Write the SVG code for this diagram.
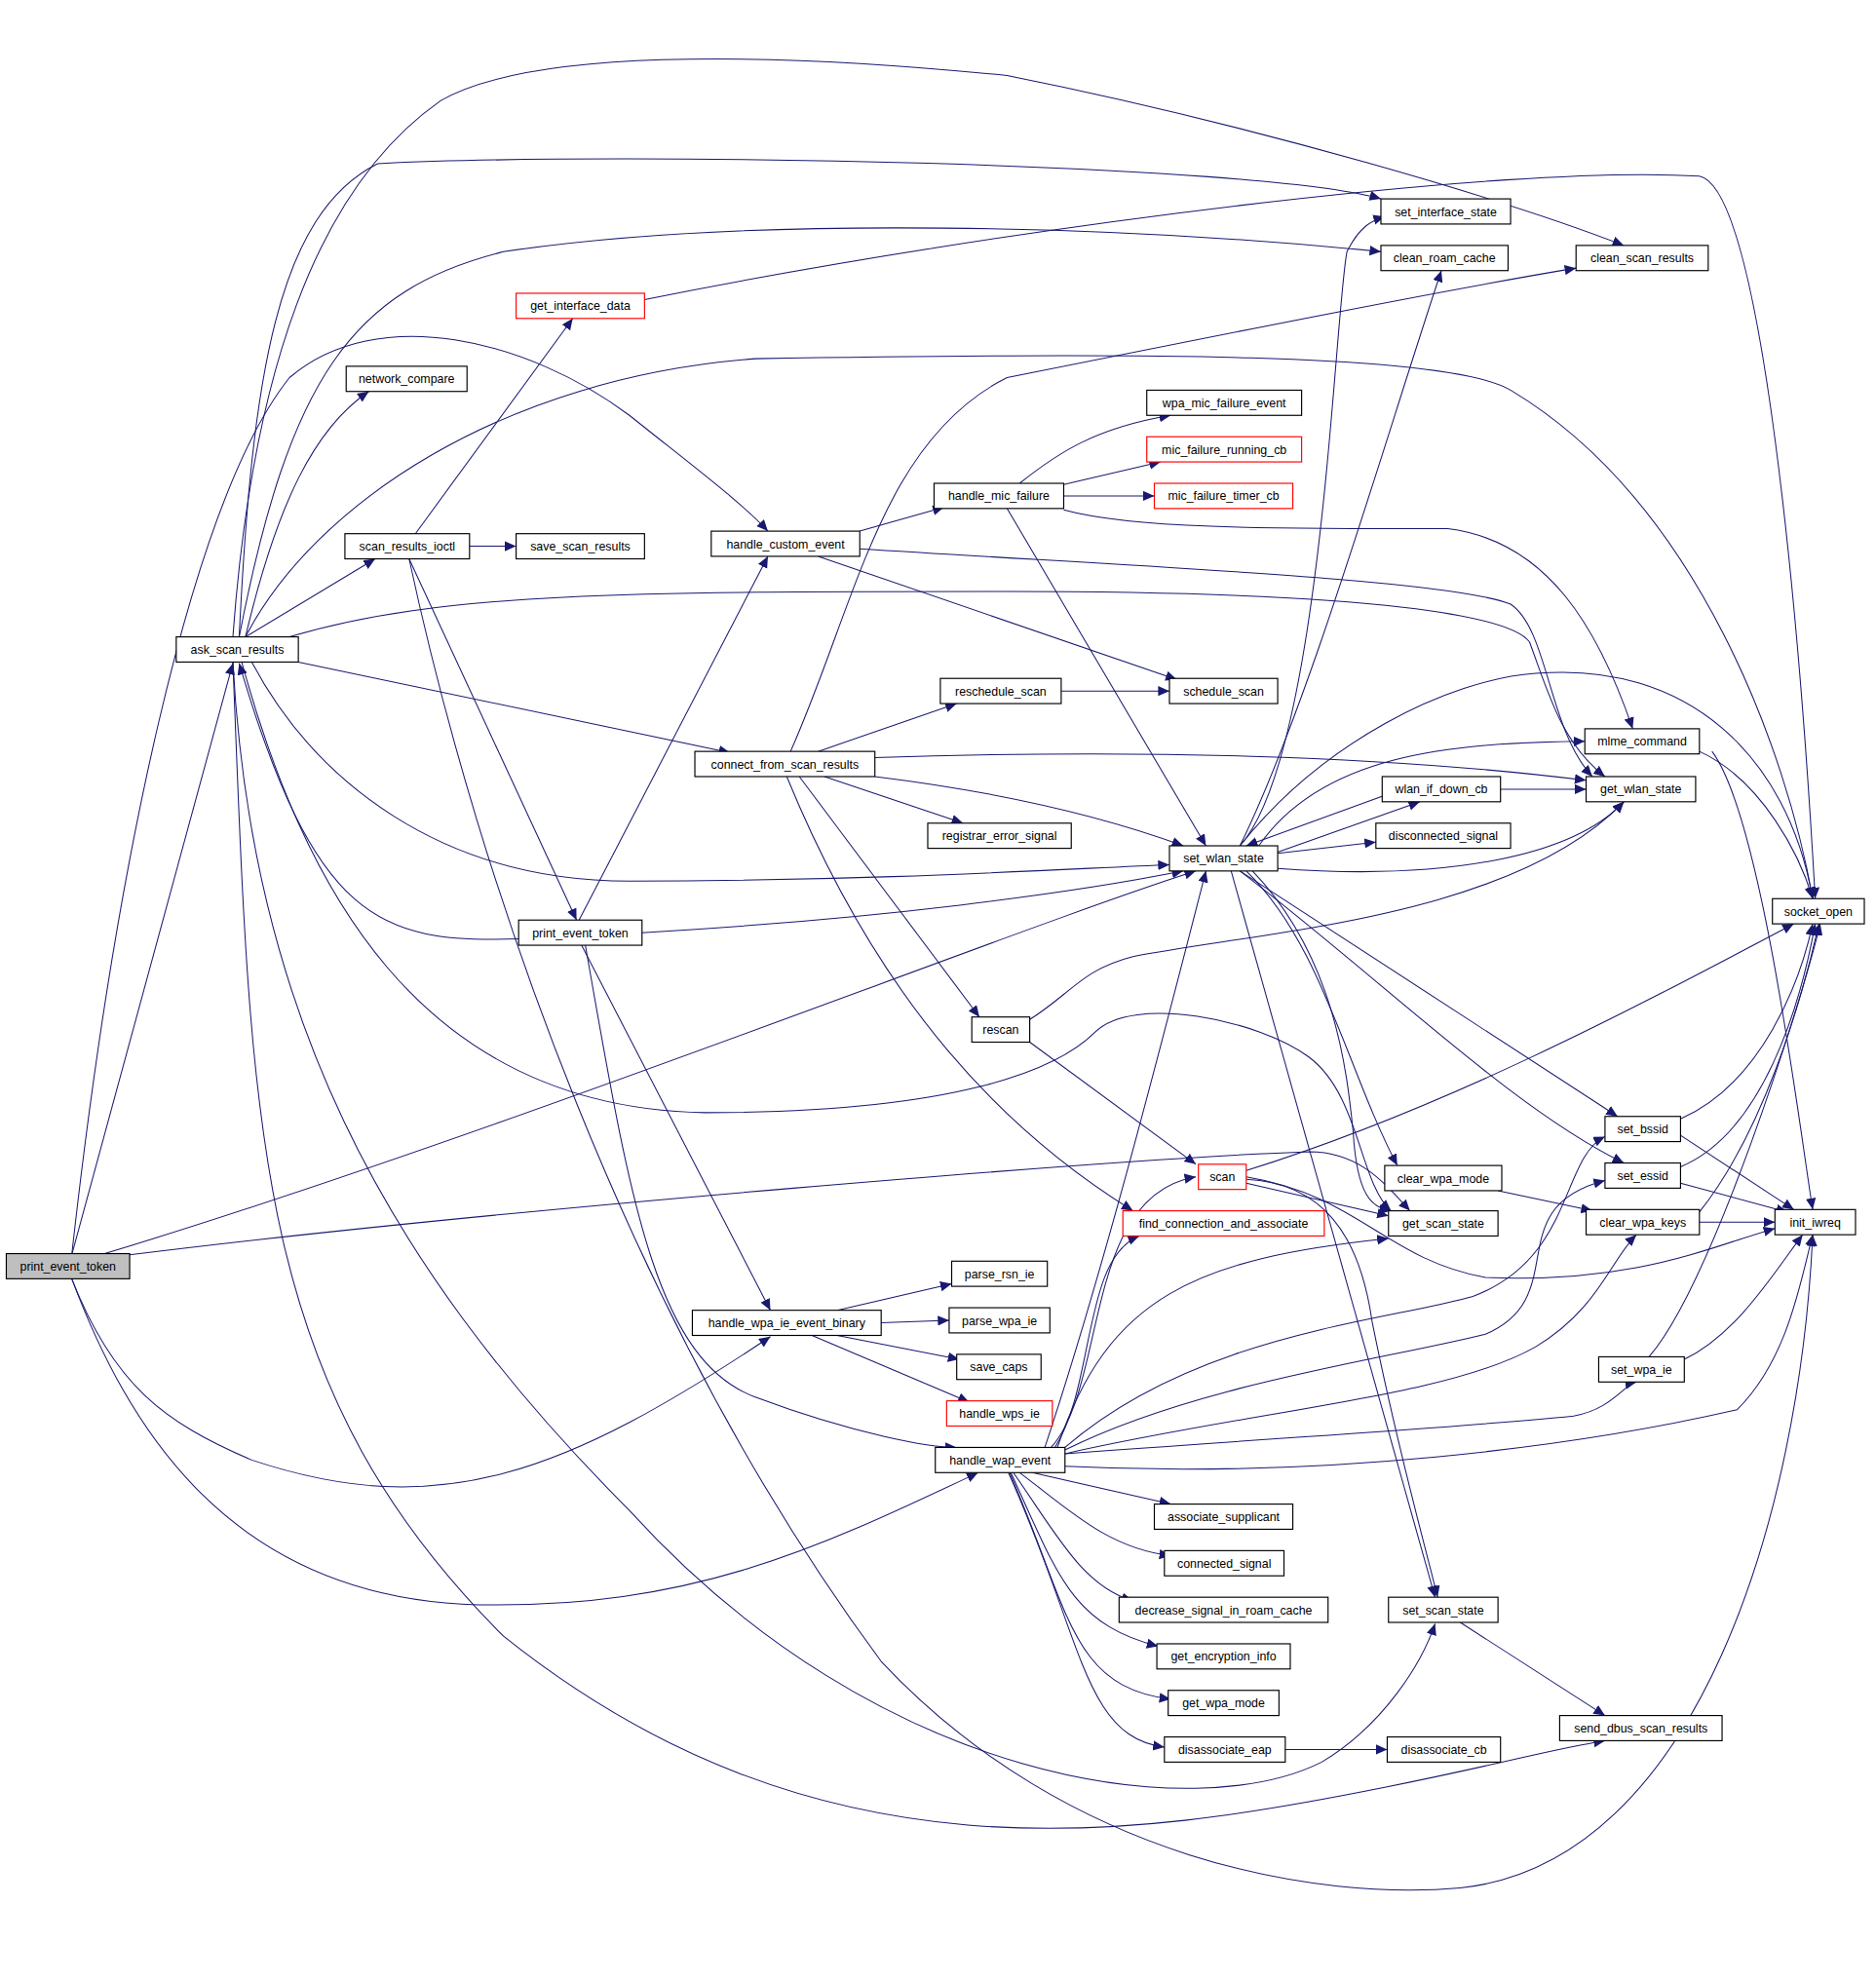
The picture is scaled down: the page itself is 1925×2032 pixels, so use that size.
<svg xmlns="http://www.w3.org/2000/svg" width="1925" height="2032" viewBox="0 0 1925 2032">
<style>
.n rect{fill:#fff;stroke:#000;stroke-width:0.9}
.r rect{stroke:#f00}
.g rect{fill:#bfbfbf}
.n text{font-family:"Liberation Sans",Arial,sans-serif;font-size:9.6px;text-anchor:middle;fill:#000}
#edges path{fill:none;stroke:#191970;stroke-width:0.8}
</style>
<defs>
<marker id="a" markerUnits="userSpaceOnUse" markerWidth="12" markerHeight="10" refX="9" refY="4" orient="auto">
<path d="M0,0 L9,4 L0,8 z" fill="#191970"/>
</marker>
</defs>
<rect width="1925" height="2032" fill="#fff"/>
<g transform="scale(1.2917)">
<g id="edges" marker-end="url(#a)">
<path marker-end="url(#a)" d="M57,997 L185,527"/>
<path marker-end="url(#a)" d="M80,997 C400,900 800,740 950,692"/>
<path marker-end="url(#a)" d="M103,997 C400,960 900,920 1040,915 C1080,915 1100,940 1120,962"/>
<path marker-end="url(#a)" d="M57,1016 C90,1100 130,1130 200,1160 C350,1210 450,1170 612,1062"/>
<path marker-end="url(#a)" d="M57,1016 C100,1130 180,1270 380,1275 C550,1278 650,1230 777,1170"/>
<path marker-end="url(#a)" d="M57,997 C90,700 150,400 230,300 C300,240 420,270 500,330 C550,370 590,400 610,422"/>
<path marker-end="url(#a)" d="M195,506 C220,400 250,340 293,311"/>
<path marker-end="url(#a)" d="M195,506 L298,444"/>
<path marker-end="url(#a)" d="M190,506 C200,300 220,170 300,130 C500,120 1000,130 1097,158"/>
<path marker-end="url(#a)" d="M190,506 C230,300 280,230 400,200 C600,170 900,180 1097,200"/>
<path marker-end="url(#a)" d="M185,506 C200,300 250,150 350,80 C420,40 600,40 800,60 C1000,100 1200,160 1290,195"/>
<path marker-end="url(#a)" d="M195,506 C250,400 400,300 600,285 C900,280 1150,280 1200,310 C1350,400 1420,600 1440,714"/>
<path marker-end="url(#a)" d="M230,506 C350,470 500,470 800,470 C1100,470 1200,490 1215,510 C1230,550 1240,590 1275,617"/>
<path marker-end="url(#a)" d="M237,526 L580,598"/>
<path marker-end="url(#a)" d="M200,526 C250,620 350,700 500,700 C700,700 850,690 929,687"/>
<path marker-end="url(#a)" d="M412,746 C300,750 250,730 190,527"/>
<path marker-end="url(#a)" d="M192,526 C240,700 330,880 560,884 C760,884 840,850 870,820 C900,790 1000,810 1040,840 C1080,870 1080,940 1105,962"/>
<path marker-end="url(#a)" d="M185,526 C200,800 300,1000 500,1200 C700,1420 950,1450 1050,1400 C1100,1370 1130,1320 1140,1290"/>
<path marker-end="url(#a)" d="M185,526 C200,900 200,1100 400,1300 C650,1500 900,1460 1100,1420 C1200,1400 1230,1390 1275,1383"/>
<path marker-end="url(#a)" d="M325,444 C380,700 500,1050 700,1320 C850,1480 1050,1510 1160,1500 C1350,1480 1430,1200 1440,981"/>
<path marker-end="url(#a)" d="M330,424 L455,253"/>
<path marker-end="url(#a)" d="M373,434 L410,434"/>
<path marker-end="url(#a)" d="M325,444 L458,731"/>
<path marker-end="url(#a)" d="M512,238 C800,180 1200,130 1350,140 C1400,150 1430,500 1442,714"/>
<path marker-end="url(#a)" d="M683,422 L750,403"/>
<path marker-end="url(#a)" d="M650,442 L935,540"/>
<path marker-end="url(#a)" d="M683,436 C900,450 1150,460 1200,480 C1230,500 1230,580 1265,617"/>
<path marker-end="url(#a)" d="M460,731 L610,442"/>
<path marker-end="url(#a)" d="M510,741 C700,730 850,710 940,692"/>
<path marker-end="url(#a)" d="M462,751 L612,1041"/>
<path marker-end="url(#a)" d="M465,751 C500,950 520,1080 600,1110 C680,1140 740,1150 760,1150"/>
<path marker-end="url(#a)" d="M810,384 C840,360 870,340 930,330"/>
<path marker-end="url(#a)" d="M845,385 L922,367"/>
<path marker-end="url(#a)" d="M845,394 L917,394"/>
<path marker-end="url(#a)" d="M800,404 L958,672"/>
<path marker-end="url(#a)" d="M845,405 C900,420 1000,420 1150,420 C1230,430 1270,500 1297,579"/>
<path marker-end="url(#a)" d="M650,597 L760,559"/>
<path marker-end="url(#a)" d="M843,549 L929,549"/>
<path marker-end="url(#a)" d="M655,617 L765,654"/>
<path marker-end="url(#a)" d="M695,617 C800,630 880,650 940,672"/>
<path marker-end="url(#a)" d="M695,602 C900,595 1100,600 1260,620"/>
<path marker-end="url(#a)" d="M628,597 C680,480 700,350 800,300 C1000,260 1150,230 1252,213"/>
<path marker-end="url(#a)" d="M635,617 L778,808"/>
<path marker-end="url(#a)" d="M625,617 C700,800 800,900 900,962"/>
<path marker-end="url(#a)" d="M818,828 L950,925"/>
<path marker-end="url(#a)" d="M818,810 C850,790 860,770 900,760 C1000,740 1200,730 1290,637"/>
<path marker-end="url(#a)" d="M985,672 C1050,600 1060,250 1070,200 C1080,180 1090,175 1100,172"/>
<path marker-end="url(#a)" d="M985,672 C1040,560 1100,350 1145,215"/>
<path marker-end="url(#a)" d="M1000,672 C1050,600 1150,590 1259,589"/>
<path marker-end="url(#a)" d="M1015,677 L1128,637"/>
<path marker-end="url(#a)" d="M1100,632 L990,672"/>
<path marker-end="url(#a)" d="M1015,678 L1093,669"/>
<path marker-end="url(#a)" d="M1192,627 L1260,627"/>
<path marker-end="url(#a)" d="M1015,690 C1150,700 1250,680 1290,637"/>
<path marker-end="url(#a)" d="M985,672 C1050,590 1150,540 1220,535 C1340,525 1420,600 1440,714"/>
<path marker-end="url(#a)" d="M985,692 L1285,887"/>
<path marker-end="url(#a)" d="M985,692 C1100,780 1200,880 1290,924"/>
<path marker-end="url(#a)" d="M990,692 C1050,750 1070,850 1110,926"/>
<path marker-end="url(#a)" d="M995,692 C1060,760 1070,850 1075,900 C1078,950 1090,960 1105,962"/>
<path marker-end="url(#a)" d="M978,692 L1140,1269"/>
<path marker-end="url(#a)" d="M1350,597 C1400,620 1430,680 1440,714"/>
<path marker-end="url(#a)" d="M1360,597 C1400,650 1430,900 1440,961"/>
<path marker-end="url(#a)" d="M1335,889 C1400,860 1430,780 1440,734"/>
<path marker-end="url(#a)" d="M1335,902 L1425,961"/>
<path marker-end="url(#a)" d="M1335,927 C1400,900 1430,800 1442,734"/>
<path marker-end="url(#a)" d="M1335,940 L1420,963"/>
<path marker-end="url(#a)" d="M1190,946 L1265,962"/>
<path marker-end="url(#a)" d="M1350,963 C1400,900 1430,800 1445,734"/>
<path marker-end="url(#a)" d="M1350,971 L1410,971"/>
<path marker-end="url(#a)" d="M1310,1078 C1360,1020 1430,800 1446,734"/>
<path marker-end="url(#a)" d="M1338,1080 C1380,1060 1410,1010 1432,981"/>
<path marker-end="url(#a)" d="M990,930 C1150,880 1300,800 1425,734"/>
<path marker-end="url(#a)" d="M990,940 L1103,966"/>
<path marker-end="url(#a)" d="M990,937 C1050,940 1080,980 1090,1050 C1110,1150 1130,1220 1142,1269"/>
<path marker-end="url(#a)" d="M990,935 C1080,950 1100,1000 1180,1015 C1300,1020 1360,990 1410,976"/>
<path marker-end="url(#a)" d="M665,1041 L756,1020"/>
<path marker-end="url(#a)" d="M700,1051 L754,1049"/>
<path marker-end="url(#a)" d="M665,1061 L762,1080"/>
<path marker-end="url(#a)" d="M645,1061 L770,1114"/>
<path marker-end="url(#a)" d="M835,1150 C880,1100 860,950 950,935"/>
<path marker-end="url(#a)" d="M838,1150 C870,1100 860,1000 905,982"/>
<path marker-end="url(#a)" d="M830,1150 C880,1000 930,800 958,692"/>
<path marker-end="url(#a)" d="M840,1150 C880,1030 950,1000 1103,984"/>
<path marker-end="url(#a)" d="M846,1150 C950,1060 1100,1050 1170,1030 C1250,1000 1240,920 1275,903"/>
<path marker-end="url(#a)" d="M846,1152 C950,1100 1100,1080 1180,1060 C1250,1030 1190,960 1275,938"/>
<path marker-end="url(#a)" d="M846,1155 C1000,1120 1150,1110 1220,1070 C1270,1040 1280,1000 1300,981"/>
<path marker-end="url(#a)" d="M846,1155 C1050,1140 1150,1135 1250,1125 C1280,1120 1290,1100 1300,1098"/>
<path marker-end="url(#a)" d="M846,1165 C1050,1175 1250,1150 1380,1120 C1420,1080 1430,1020 1440,981"/>
<path marker-end="url(#a)" d="M820,1170 L930,1195"/>
<path marker-end="url(#a)" d="M810,1170 C850,1200 880,1230 930,1236"/>
<path marker-end="url(#a)" d="M805,1170 C840,1220 860,1260 900,1272"/>
<path marker-end="url(#a)" d="M803,1170 C840,1250 850,1290 920,1308"/>
<path marker-end="url(#a)" d="M802,1170 C850,1280 850,1340 930,1350"/>
<path marker-end="url(#a)" d="M801,1170 C860,1300 860,1380 925,1388"/>
<path marker-end="url(#a)" d="M1021,1390 L1102,1390"/>
<path marker-end="url(#a)" d="M1160,1289 L1275,1363"/>
</g>
<g id="n1" class="n g"><rect x="5" y="996" width="98" height="20"/><text x="54" y="1009.5">print_event_token</text></g>
<g id="n2" class="n"><rect x="140" y="506" width="97" height="20"/><text x="188.5" y="519.5">ask_scan_results</text></g>
<g id="n3" class="n"><rect x="275" y="291" width="96" height="20"/><text x="323" y="304.5">network_compare</text></g>
<g id="n4" class="n"><rect x="274" y="424" width="99" height="20"/><text x="323.5" y="437.5">scan_results_ioctl</text></g>
<g id="n5" class="n"><rect x="410" y="424" width="102" height="20"/><text x="461" y="437.5">save_scan_results</text></g>
<g id="n6" class="n r"><rect x="410" y="233" width="102" height="20"/><text x="461" y="246.5">get_interface_data</text></g>
<g id="n7" class="n"><rect x="565" y="422" width="118" height="20"/><text x="624" y="435.5">handle_custom_event</text></g>
<g id="n8" class="n"><rect x="412" y="731" width="98" height="20"/><text x="461" y="744.5">print_event_token</text></g>
<g id="n9" class="n"><rect x="552" y="597" width="143" height="20"/><text x="623.5" y="610.5">connect_from_scan_results</text></g>
<g id="n10" class="n"><rect x="742" y="384" width="103" height="20"/><text x="793.5" y="397.5">handle_mic_failure</text></g>
<g id="n11" class="n"><rect x="911" y="310" width="123" height="20"/><text x="972.5" y="323.5">wpa_mic_failure_event</text></g>
<g id="n12" class="n r"><rect x="911" y="347" width="123" height="20"/><text x="972.5" y="360.5">mic_failure_running_cb</text></g>
<g id="n13" class="n r"><rect x="917" y="384" width="110" height="20"/><text x="972" y="397.5">mic_failure_timer_cb</text></g>
<g id="n14" class="n"><rect x="747" y="539" width="96" height="20"/><text x="795" y="552.5">reschedule_scan</text></g>
<g id="n15" class="n"><rect x="929" y="539" width="86" height="20"/><text x="972" y="552.5">schedule_scan</text></g>
<g id="n16" class="n"><rect x="737" y="654" width="114" height="20"/><text x="794" y="667.5">registrar_error_signal</text></g>
<g id="n17" class="n"><rect x="772" y="808" width="46" height="20"/><text x="795" y="821.5">rescan</text></g>
<g id="n18" class="n"><rect x="929" y="672" width="86" height="20"/><text x="972" y="685.5">set_wlan_state</text></g>
<g id="n19" class="n"><rect x="1097" y="158" width="103" height="20"/><text x="1148.5" y="171.5">set_interface_state</text></g>
<g id="n20" class="n"><rect x="1097" y="195" width="101" height="20"/><text x="1147.5" y="208.5">clean_roam_cache</text></g>
<g id="n21" class="n"><rect x="1252" y="195" width="105" height="20"/><text x="1304.5" y="208.5">clean_scan_results</text></g>
<g id="n22" class="n"><rect x="1259" y="579" width="91" height="20"/><text x="1304.5" y="592.5">mlme_command</text></g>
<g id="n23" class="n"><rect x="1098" y="617" width="94" height="20"/><text x="1145" y="630.5">wlan_if_down_cb</text></g>
<g id="n24" class="n"><rect x="1260" y="617" width="87" height="20"/><text x="1303.5" y="630.5">get_wlan_state</text></g>
<g id="n25" class="n"><rect x="1093" y="654" width="107" height="20"/><text x="1146.5" y="667.5">disconnected_signal</text></g>
<g id="n26" class="n"><rect x="1408" y="714" width="73" height="20"/><text x="1444.5" y="727.5">socket_open</text></g>
<g id="n27" class="n"><rect x="1275" y="887" width="60" height="20"/><text x="1305" y="900.5">set_bssid</text></g>
<g id="n28" class="n"><rect x="1275" y="924" width="60" height="20"/><text x="1305" y="937.5">set_essid</text></g>
<g id="n29" class="n"><rect x="1100" y="926" width="93" height="20"/><text x="1146.5" y="939.5">clear_wpa_mode</text></g>
<g id="n30" class="n"><rect x="1260" y="961" width="90" height="20"/><text x="1305" y="974.5">clear_wpa_keys</text></g>
<g id="n31" class="n"><rect x="1410" y="961" width="64" height="20"/><text x="1442" y="974.5">init_iwreq</text></g>
<g id="n32" class="n r"><rect x="952" y="925" width="38" height="20"/><text x="971" y="938.5">scan</text></g>
<g id="n33" class="n r"><rect x="892" y="962" width="160" height="20"/><text x="972" y="975.5">find_connection_and_associate</text></g>
<g id="n34" class="n"><rect x="1103" y="962" width="87" height="20"/><text x="1146.5" y="975.5">get_scan_state</text></g>
<g id="n35" class="n"><rect x="756" y="1002" width="76" height="20"/><text x="794" y="1015.5">parse_rsn_ie</text></g>
<g id="n36" class="n"><rect x="550" y="1041" width="150" height="20"/><text x="625" y="1054.5">handle_wpa_ie_event_binary</text></g>
<g id="n37" class="n"><rect x="754" y="1039" width="80" height="20"/><text x="794" y="1052.5">parse_wpa_ie</text></g>
<g id="n38" class="n"><rect x="760" y="1076" width="67" height="20"/><text x="793.5" y="1089.5">save_caps</text></g>
<g id="n39" class="n r"><rect x="752" y="1113" width="84" height="20"/><text x="794" y="1126.5">handle_wps_ie</text></g>
<g id="n40" class="n"><rect x="1270" y="1078" width="68" height="20"/><text x="1304" y="1091.5">set_wpa_ie</text></g>
<g id="n41" class="n"><rect x="743" y="1150" width="103" height="20"/><text x="794.5" y="1163.5">handle_wap_event</text></g>
<g id="n42" class="n"><rect x="917" y="1195" width="110" height="20"/><text x="972" y="1208.5">associate_supplicant</text></g>
<g id="n43" class="n"><rect x="925" y="1232" width="95" height="20"/><text x="972.5" y="1245.5">connected_signal</text></g>
<g id="n44" class="n"><rect x="889" y="1269" width="166" height="20"/><text x="972" y="1282.5">decrease_signal_in_roam_cache</text></g>
<g id="n45" class="n"><rect x="1103" y="1269" width="87" height="20"/><text x="1146.5" y="1282.5">set_scan_state</text></g>
<g id="n46" class="n"><rect x="919" y="1306" width="106" height="20"/><text x="972" y="1319.5">get_encryption_info</text></g>
<g id="n47" class="n"><rect x="928" y="1343" width="88" height="20"/><text x="972" y="1356.5">get_wpa_mode</text></g>
<g id="n48" class="n"><rect x="925" y="1380" width="96" height="20"/><text x="973" y="1393.5">disassociate_eap</text></g>
<g id="n49" class="n"><rect x="1102" y="1380" width="90" height="20"/><text x="1147" y="1393.5">disassociate_cb</text></g>
<g id="n50" class="n"><rect x="1239" y="1363" width="129" height="20"/><text x="1303.5" y="1376.5">send_dbus_scan_results</text></g>
</g>
</svg>
